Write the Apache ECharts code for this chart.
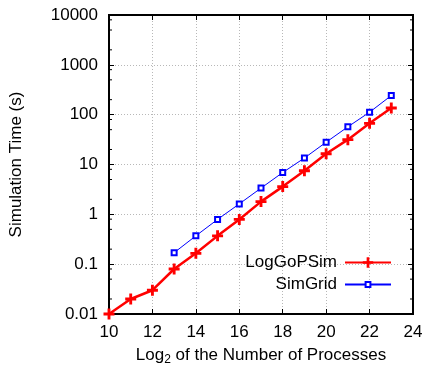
<!DOCTYPE html>
<html>
<head>
<meta charset="utf-8">
<script src="https://cdn.jsdelivr.net/npm/echarts@6/dist/echarts.min.js"></script>
<style>
  html, body { margin: 0; padding: 0; background: #fff; }
  #chart { width: 426px; height: 371px; }
</style>
</head>
<body>
<div id="chart"></div>
<script>
// log2 of the number of processes
const procLog2 = [10, 11, 12, 13, 14, 15, 16, 17, 18, 19, 20, 21, 22, 23];
// LogGoPSim simulation time (s), one value per procLog2 entry
const logGoPSimTime = [0.01, 0.02, 0.03, 0.08, 0.165, 0.37, 0.79, 1.8, 3.6, 7.5, 16.4, 31.5, 67, 136];
// SimGrid simulation time (s), starting at 2^13 processes
const simGridLog2 = [13, 14, 15, 16, 17, 18, 19, 20, 21, 22, 23];
const simGridTime = [0.17, 0.37, 0.79, 1.62, 3.36, 6.9, 13.5, 28, 57, 112, 242];
// tick labels of the time axis, one per decade
const yTickLabels = ['0.01', '0.1', '1', '10', '100', '1000', '10000'];
const xTickLabels = ['10', '12', '14', '16', '18', '20', '22', '24'];

const FONT = '"Liberation Sans", Arial, Helvetica, sans-serif';
const FS = 17;

// minor ticks of the log axis (2, 5, 8 within each decade)
const minorTickValues = [];
for (let e = -2; e < 4; e++) {
  [2, 5, 8].forEach(m => minorTickValues.push(m * Math.pow(10, e)));
}

const plus = 'path://M-1.3,-5H1.3V-1.3H5V1.3H1.3V5H-1.3V1.3H-5V-1.3H-1.3Z';

const chart = echarts.init(document.getElementById('chart'), null, { renderer: 'canvas' });

const yFmt = v => yTickLabels[Math.round(Math.log10(v)) + 2] || '';
const xFmt = v => xTickLabels[(v - 10) / 2] || '';

const legendBase = {
  orient: 'vertical',
  align: 'right',
  right: 34,
  padding: 0,
  itemWidth: 46,
  textStyle: { fontFamily: FONT, fontSize: FS, color: '#000', padding: [0, 3, 0, 0] }
};

chart.setOption({
  animation: false,
  backgroundColor: '#fff',
  textStyle: { fontFamily: FONT },
  grid: {
    left: 108, right: 13, top: 15, bottom: 51,
    show: true, borderColor: '#000', borderWidth: 2, backgroundColor: 'transparent'
  },
  legend: [
    Object.assign({}, legendBase, { data: ['LogGoPSim'], top: 254, itemHeight: 13 }),
    Object.assign({}, legendBase, { data: ['SimGrid'], top: 276, itemHeight: 6 })
  ],
  xAxis: [{
    type: 'value', min: 10, max: 24, interval: 2,
    name: 'Log{sub|2} of the Number of Processes',
    nameLocation: 'middle', nameGap: 31,
    nameTextStyle: {
      fontFamily: FONT, fontSize: FS, color: '#000',
      rich: { sub: { fontFamily: FONT, fontSize: 12, verticalAlign: 'bottom', padding: [9, 0, 0, 0] } }
    },
    axisLine: { show: true, lineStyle: { color: '#000', width: 2 } },
    axisTick: { inside: true, length: 5, lineStyle: { color: '#000', width: 1 } },
    axisLabel: { fontFamily: FONT, fontSize: FS, color: '#000', margin: 10, formatter: xFmt },
    splitLine: { show: true, lineStyle: { color: '#b8b8b8', width: 1, type: [1, 2] } }
  }, {
    type: 'value', min: 10, max: 24, interval: 2, position: 'top',
    axisLine: { show: true, lineStyle: { color: '#000', width: 2 } },
    axisTick: { inside: true, length: 5, lineStyle: { color: '#000', width: 1 } },
    axisLabel: { show: false },
    splitLine: { show: false }
  }],
  yAxis: [{
    type: 'log', logBase: 10, min: 0.01, max: 10000, interval: 1,
    name: 'Simulation Time (s)',
    nameLocation: 'middle', nameGap: 84,
    nameTextStyle: { fontFamily: FONT, fontSize: FS, color: '#000' },
    axisLine: { show: true, lineStyle: { color: '#000', width: 2 } },
    axisTick: { inside: true, length: 5, lineStyle: { color: '#000', width: 1 } },
    axisLabel: { fontFamily: FONT, fontSize: FS, color: '#000', margin: 11, formatter: yFmt },
    splitLine: { show: true, lineStyle: { color: '#b8b8b8', width: 1, type: [1, 2] } }
  }, {
    type: 'log', logBase: 10, min: 0.01, max: 10000, interval: 1, position: 'right',
    axisLine: { show: true, lineStyle: { color: '#000', width: 2 } },
    axisTick: { inside: true, length: 5, lineStyle: { color: '#000', width: 1 } },
    axisLabel: { show: false },
    splitLine: { show: false }
  }],
  series: [{
    name: 'minor ticks',
    type: 'custom',
    xAxisIndex: 0, yAxisIndex: 0,
    silent: true,
    clip: false,
    z: 5,
    data: minorTickValues.map(v => [v]),
    renderItem: (params, api) => {
      const v = api.value(0);
      const l = api.coord([10, v]);
      const r = api.coord([24, v]);
      const style = { stroke: '#000', lineWidth: 1 };
      return {
        type: 'group',
        children: [
          { type: 'line', shape: { x1: l[0], y1: l[1], x2: l[0] + 3, y2: l[1] }, style },
          { type: 'line', shape: { x1: r[0], y1: r[1], x2: r[0] - 3, y2: r[1] }, style }
        ]
      };
    }
  }, {
    name: 'LogGoPSim',
    type: 'line',
    xAxisIndex: 0, yAxisIndex: 0,
    data: procLog2.map((x, i) => [x, logGoPSimTime[i]]),
    symbol: plus,
    symbolSize: 11,
    showAllSymbol: true,
    clip: false,
    z: 4,
    color: '#ff0000',
    itemStyle: { color: '#ff0000', borderWidth: 0 },
    lineStyle: { color: '#ff0000', width: 2.5 }
  }, {
    name: 'SimGrid',
    type: 'line',
    xAxisIndex: 0, yAxisIndex: 0,
    data: simGridLog2.map((x, i) => [x, simGridTime[i]]),
    symbol: 'emptyRect',
    symbolSize: 5,
    showAllSymbol: true,
    clip: false,
    z: 3,
    color: '#0000ff',
    itemStyle: { color: '#0000ff', borderColor: '#0000ff', borderWidth: 1 },
    lineStyle: { color: '#0000ff', width: 1 }
  }]
});
</script>
</body>
</html>
